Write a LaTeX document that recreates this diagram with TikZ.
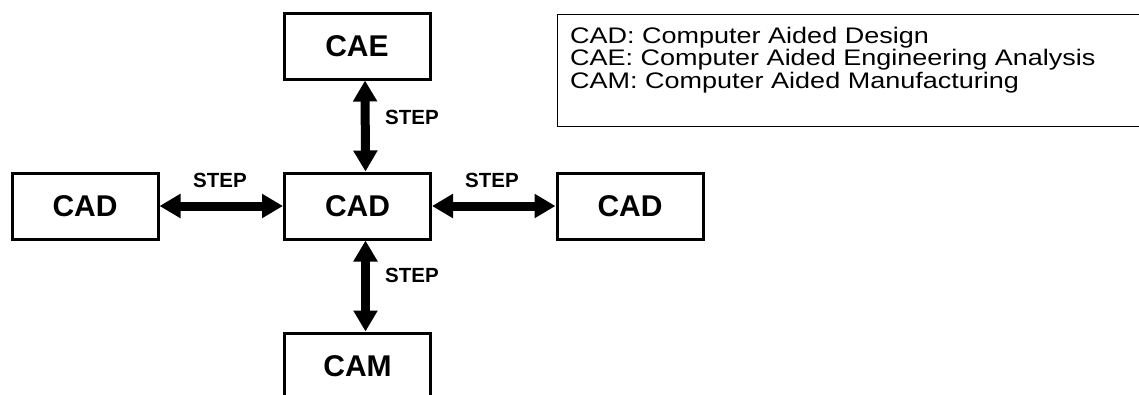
\documentclass[tikz,border=0pt]{standalone}
\usepackage{fontspec}
\setmainfont{Liberation Sans}
\newfontfamily\widesans[FakeStretch=1.2]{Liberation Sans}
\usetikzlibrary{arrows.meta}
\begin{document}
\begin{tikzpicture}[x=1pt,y=-1pt,
  sysbox/.style={draw,line width=3pt,minimum width=146pt,minimum height=66pt,
    inner sep=0pt,font=\fontsize{30}{36}\bfseries\selectfont},
  link/.style={line width=9pt,{Triangle[length=21pt,width=23pt]}-{Triangle[length=21pt,width=23pt]}},
  steplabel/.style={font=\fontsize{20.5}{24}\bfseries\selectfont,inner sep=0pt},
  legend/.style={font=\widesans\fontsize{22.5}{22.5}\selectfont,align=left,inner sep=0pt}]
\useasboundingbox (0,0) rectangle (1139,394);
\clip (0,0) rectangle (1139,394);

% systems
\node[sysbox] (cae) at (357,46) {CAE};
\node[sysbox] (cad) at (357.5,206) {CAD};
\node[sysbox] (cadl) at (85,206) {CAD};
\node[sysbox] (cadr) at (630,206) {CAD};
\node[sysbox] (cam) at (357.5,366) {CAM};

% exchange links
\draw[link] ([xshift=8pt]cae.south) -- ([xshift=8pt]cad.north);
\draw[link] ([xshift=8pt]cad.south) -- ([xshift=8pt]cam.north);
\draw[link] (cadl.east) -- (cad.west);
\draw[link] (cad.east) -- (cadr.west);

% link labels
\node[steplabel,anchor=west] (s1) at (385,117) {STEP};
\node[steplabel,anchor=west] (s2) at (385,275) {STEP};
\node[steplabel] (s3) at (220,180) {STEP};
\node[steplabel] (s4) at (492,180) {STEP};

% abbreviations
\draw[line width=1pt] (557,14) rectangle (1160,126);
\node[legend,anchor=north west] (leg) at (570,26.5)
  {CAD: Computer Aided Design\\CAE: Computer Aided Engineering Analysis\\CAM: Computer Aided Manufacturing};
\end{tikzpicture}
\end{document}
